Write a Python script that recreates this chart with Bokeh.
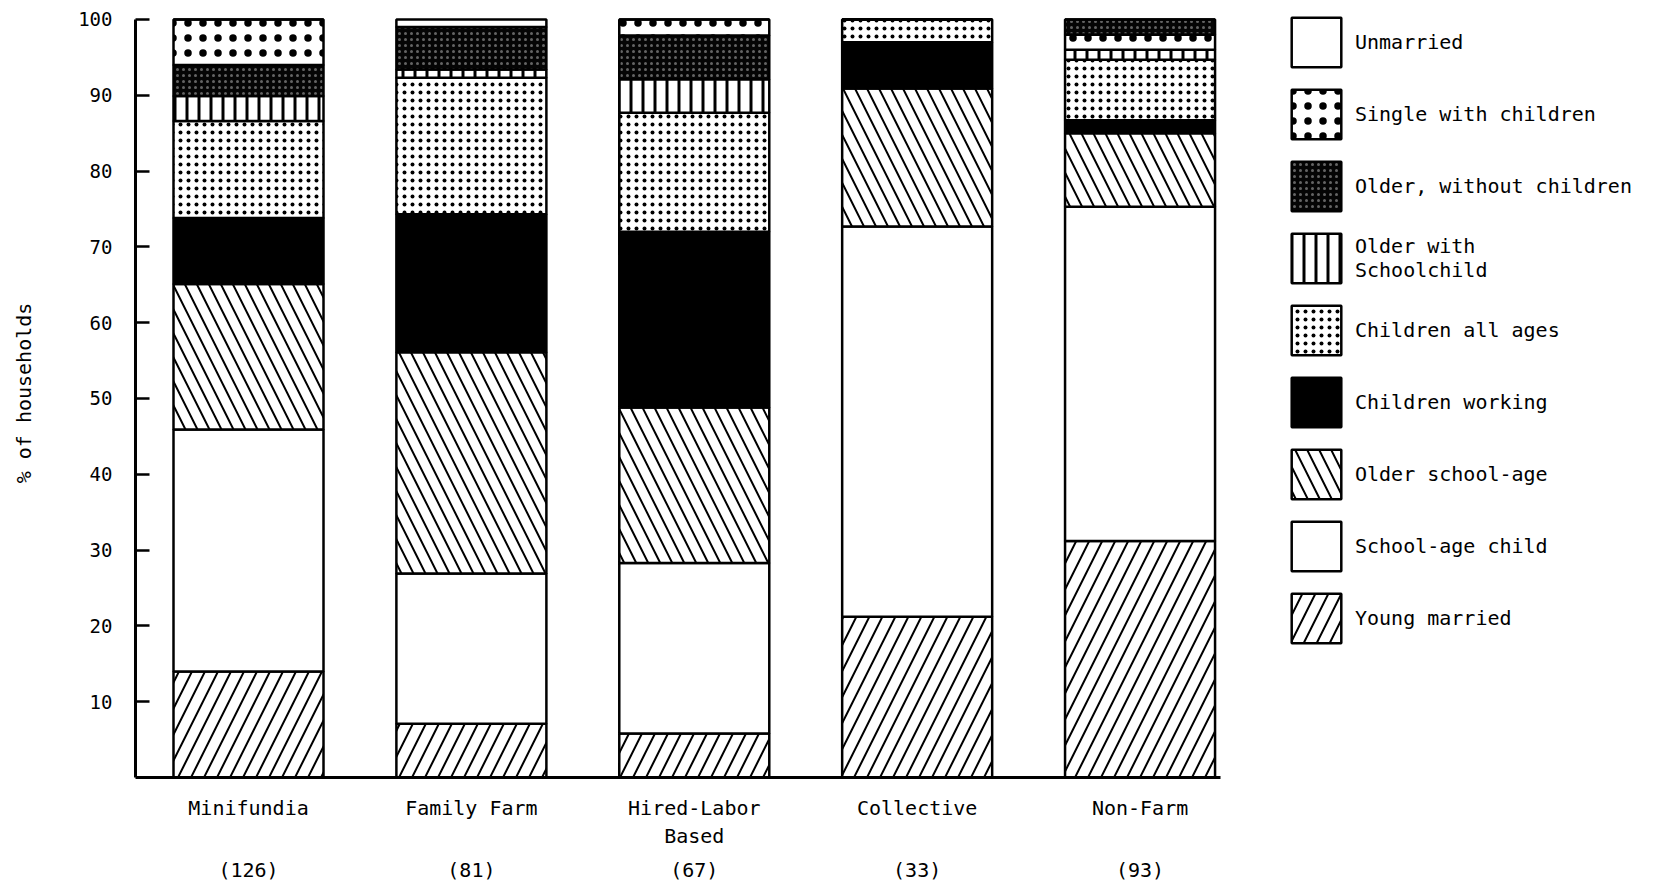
import numpy as np
from bokeh.plotting import figure
from bokeh.models import (ColumnDataSource, Range1d, FixedTicker, LinearAxis,
                          Legend, LegendItem)
from bokeh.embed import file_html
from bokeh.resources import INLINE

# ---------------- data ----------------
categories = ["Minifundia", "Family Farm", "Hired-Labor Based", "Collective", "Non-Farm"]
category_labels = ["Minifundia", "Family Farm", "Hired-Labor\nBased", "Collective", "Non-Farm"]
households = [126, 81, 67, 33, 93]

# % of households, stacked from the bottom up
young_married     = [14.0, 7.1, 5.8, 21.2, 31.2]
school_age_child  = [31.9, 19.8, 22.5, 51.5, 44.1]
older_school_age  = [19.2, 29.2, 20.5, 18.2, 9.7]
children_working  = [8.7, 18.2, 23.2, 6.1, 1.7]
children_all_ages = [12.8, 18.0, 15.7, 3.0, 8.0]
older_schoolchild = [3.3, 1.1, 4.4, 0.0, 1.3]
older_no_children = [4.1, 5.6, 5.8, 0.0, 2.0]
single_children   = [6.0, 0.0, 2.1, 0.0, 2.0]
unmarried         = [0.0, 1.0, 0.0, 0.0, 0.0]

series_names = ["Young married", "School-age child", "Older school-age",
                "Children working", "Children all ages", "Older with\nSchoolchild",
                "Older, without children", "Single with children", "Unmarried"]
series_values = [young_married, school_age_child, older_school_age, children_working,
                 children_all_ages, older_schoolchild, older_no_children,
                 single_children, unmarried]

# in the Non-Farm bar the "older, without children" band sits on top of "single with children"
swapped_in = {"Non-Farm": ("Older, without children", "Single with children")}

y_ticks = [10, 20, 30, 40, 50, 60, 70, 80, 90, 100]

# ---------------- styles ----------------
FONT = "DejaVu Sans Mono"
styles = {
    "Young married": dict(fill_color="white", hatch_pattern="/", hatch_scale=26, hatch_weight=2, hatch_color="black"),
    "School-age child": dict(fill_color="white"),
    "Older school-age": dict(fill_color="white", hatch_pattern="\\", hatch_scale=24, hatch_weight=2, hatch_color="black"),
    "Children working": dict(fill_color="black"),
    "Children all ages": dict(fill_color="white", hatch_pattern=".", hatch_scale=8, hatch_weight=3, hatch_color="black"),
    "Older with\nSchoolchild": dict(fill_color="white", hatch_pattern="|", hatch_scale=12, hatch_weight=3, hatch_color="black"),
    "Older, without children": dict(fill_color="#050505", hatch_pattern=".", hatch_scale=6, hatch_weight=1, hatch_color="white", hatch_alpha=0.38),
    "Single with children": dict(fill_color="white", hatch_pattern=".", hatch_scale=15, hatch_weight=3, hatch_color="black"),
    "Unmarried": dict(fill_color="white"),
}

# ---------------- stacking ----------------
xs = np.arange(len(categories))
bottoms = {n: [] for n in series_names}
tops = {n: [] for n in series_names}
for j, cat in enumerate(categories):
    order = list(series_names)
    if cat in swapped_in:
        a, b = swapped_in[cat]
        ia, ib = order.index(a), order.index(b)
        order[ia], order[ib] = order[ib], order[ia]
    acc = 0.0
    for n in order:
        v = series_values[series_names.index(n)][j]
        bottoms[n].append(acc)
        acc += v
        tops[n].append(acc)

p = figure(width=1660, height=884, output_backend="svg", toolbar_location=None,
           x_range=Range1d(-0.507, 6.335), y_range=Range1d(0, 101.45),
           x_axis_type=None, y_axis_type=None,
           min_border_left=135, min_border_top=8, min_border_right=0, min_border_bottom=20)
p.outline_line_color = None
p.background_fill_color = "white"

renderers = {}
for n in series_names:
    src = ColumnDataSource(dict(x=xs, bottom=bottoms[n], top=tops[n]))
    r = p.vbar(x="x", bottom="bottom", top="top", width=0.673, source=src,
               line_color="black", line_width=2.5, **styles[n])
    renderers[n] = r

# y axis
yax = LinearAxis(ticker=FixedTicker(ticks=y_ticks), axis_label="% of households", bounds=(0, 100))
yax.axis_line_width = 3
yax.major_tick_in = 14
yax.major_tick_out = 0
yax.major_tick_line_width = 2.5
yax.minor_tick_line_color = None
yax.major_label_standoff = 23
yax.major_label_text_font = FONT
yax.major_label_text_font_size = "19px"
yax.major_label_text_color = "black"
yax.axis_label_text_font = FONT
yax.axis_label_text_font_size = "20px"
yax.axis_label_text_font_style = "normal"
yax.axis_label_text_color = "black"
yax.axis_label_standoff = 39
p.add_layout(yax, "left")

# x axis: category names
xax = LinearAxis(ticker=FixedTicker(ticks=list(xs)), bounds=(-0.507, 4.361),
                 major_label_overrides={int(i): lab for i, lab in zip(xs, category_labels)})
xax.axis_line_width = 3
xax.major_tick_in = 0
xax.major_tick_out = 0
xax.minor_tick_line_color = None
xax.major_label_standoff = 18
xax.major_label_text_font = FONT
xax.major_label_text_font_size = "20px"
xax.major_label_text_color = "black"
xax.major_label_text_line_height = 1.2
p.add_layout(xax, "below")

# x axis: number of households
nax = LinearAxis(ticker=FixedTicker(ticks=list(xs)),
                 major_label_overrides={int(i): f"({n})" for i, n in zip(xs, households)})
nax.axis_line_color = None
nax.major_tick_in = 0
nax.major_tick_out = 0
nax.minor_tick_line_color = None
nax.major_label_standoff = 6
nax.major_label_text_font = FONT
nax.major_label_text_font_size = "20px"
nax.major_label_text_color = "black"
p.add_layout(nax, "below")

legend = Legend(items=[LegendItem(label=n, renderers=[renderers[n]]) for n in reversed(series_names)],
                location=(1150, 128), glyph_width=62, glyph_height=62, label_height=62,
                spacing=10, padding=0, margin=0, border_line_color=None,
                background_fill_alpha=0, label_standoff=8,
                label_text_font=FONT, label_text_font_size="20px", label_text_color="black")
p.add_layout(legend)

open("out.html", "w").write(file_html(p, INLINE))
